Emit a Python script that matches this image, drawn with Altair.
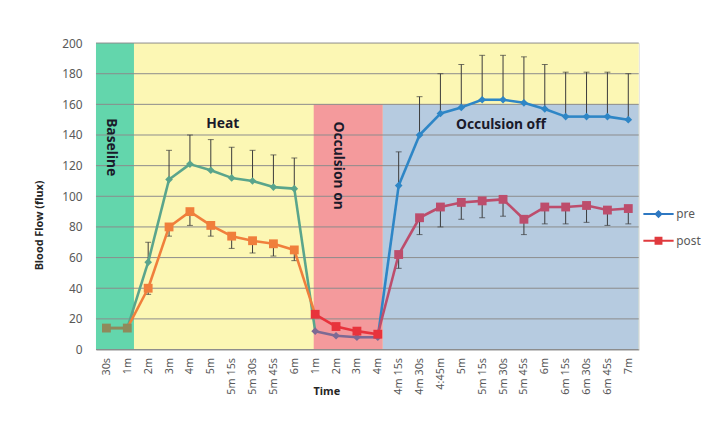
import altair as alt
import pandas as pd

# ---------------- data ----------------
x_labels = ["30s", "1m", "2m", "3m", "4m", "5m", "5m 15s", "5m 30s", "5m 45s", "6m",
            "1m", "2m", "3m", "4m", "4m 15s", "4m 30s", "4:45m", "5m", "5m 15s",
            "5m 30s", "5m 45s", "6m", "6m 15s", "6m 30s", "6m 45s", "7m"]
pre = [14, 14, 57, 111, 121, 117, 112, 110, 106, 105, 12, 9, 8, 8,
       107, 140, 154, 158, 163, 163, 161, 157, 152, 152, 152, 150]
post = [14, 14, 40, 80, 90, 81, 74, 71, 69, 65, 23, 15, 12, 10,
        62, 86, 93, 96, 97, 98, 85, 93, 93, 94, 91, 92]
pre_err_top = [14, 14, 70, 130, 140, 137, 132, 130, 127, 125, 12, 9, 8, 8,
               129, 165, 180, 186, 192, 192, 191, 186, 181, 181, 181, 180]
post_err_bottom = [14, 14, 36, 74, 81, 74, 66, 63, 61, 58, 23, 15, 12, 10,
                   53, 75, 80, 85, 86, 87, 75, 82, 82, 83, 81, 82]

point_phase = ["base"] * 2 + ["heat"] * 8 + ["on"] * 4 + ["off"] * 12
segment_phase = ["base"] + ["heat"] * 9 + ["on"] * 3 + ["off"] * 12

pre_colors = {"base": "#8f8a5c", "heat": "#5aa58c", "on": "#7d6a94", "off": "#2e86c6"}
post_colors = {"base": "#8f8a5c", "heat": "#f07f3c", "on": "#e8333c", "off": "#bd4d6c"}

phase_names = ["Baseline", "Heat", "Occulsion on", "Occulsion off"]
phase_x = [0.2, 5.57, 11.1, 18.9]
phase_y = [132, 147, 120, 146.5]
phase_angle = [90, 0, 90, 0]

band_x0 = [-0.5, 1.32, 9.93, 13.24]
band_x1 = [1.32, 25.5, 13.24, 25.5]
band_y0 = [0, 0, 0, 0]
band_y1 = [200, 200, 160, 160]
band_colors = ["#63d6ac", "#fcf7b4", "#f49a9c", "#b6cbe0"]

y_ticks = [0, 20, 40, 60, 80, 100, 120, 140, 160, 180, 200]

# ---------------- tables ----------------
bands = pd.DataFrame({"x0": band_x0, "x1": band_x1, "y0": band_y0, "y1": band_y1, "c": band_colors})
grid = pd.DataFrame({"y": y_ticks})
labels_df = pd.DataFrame({"name": phase_names, "x": phase_x, "y": phase_y, "a": phase_angle})

pts = []
for i in range(len(x_labels)):
    pts.append({"i": i, "series": "pre", "v": pre[i], "e": pre_err_top[i],
                "c": pre_colors[point_phase[i]]})
    pts.append({"i": i, "series": "post", "v": post[i], "e": post_err_bottom[i],
                "c": post_colors[point_phase[i]]})
pts = pd.DataFrame(pts)

segs = []
for i in range(len(x_labels) - 1):
    for s, vals, cols in (("pre", pre, pre_colors), ("post", post, post_colors)):
        col = cols[segment_phase[i]]
        for j in (i, i + 1):
            segs.append({"seg": f"{s}{i}", "i": j, "v": vals[j], "c": col})
segs = pd.DataFrame(segs)

label_expr = "[" + ",".join("'" + l + "'" for l in x_labels) + "][datum.value]"

FONT = "Noto Sans"
xscale = alt.Scale(domain=[-0.5, 25.5], nice=False, zero=False)
yscale = alt.Scale(domain=[0, 200], nice=False, zero=False)

x_axis = alt.Axis(values=list(range(len(x_labels))), labelExpr=label_expr, labelAngle=-90,
                  labelFontSize=11, labelColor="#595959", labelFont=FONT, grid=False,
                  labelOverlap=False, labelFlush=False, labelBound=False,
                  domain=True, domainColor="#a6a6a6", ticks=False, labelPadding=8,
                  title="Time", titleFont=FONT, titleFontSize=11, titleFontWeight="bold",
                  titleColor="#262626", titleX=233, titleY=36, titleAlign="center")
y_axis = alt.Axis(values=y_ticks, labelFontSize=12, labelColor="#595959", labelFont=FONT,
                  labelOverlap=False, labelFlush=False, labelBound=False,
                  grid=False, domain=False, ticks=False, labelPadding=14,
                  title="Blood Flow (flux)", titleFont=FONT, titleFontSize=11,
                  titleFontWeight="bold", titleColor="#262626", titleX=-57, titleY=184,
                  titleAlign="center", titleBaseline="middle", titleAngle=-90)


def X(field):
    return alt.X(field, type="quantitative", scale=xscale, axis=x_axis)


def Y(field):
    return alt.Y(field, type="quantitative", scale=yscale, axis=y_axis)


rects = alt.Chart(bands).mark_rect().encode(
    x=X("x0"), x2="x1", y=Y("y0"), y2="y1",
    color=alt.Color("c:N", scale=None),
)

grid_rules = alt.Chart(grid).mark_rule(color="#8c8c8c", strokeWidth=1).encode(
    y=Y("y"), x=alt.value(0), x2=alt.value(549),
)

phase_text = alt.Chart(labels_df).mark_text(font=FONT, fontSize=14, fontWeight="bold",
                                             color="#1a1a2a", align="center",
                                             baseline="middle").encode(
    x=X("x"), y=Y("y"), text="name:N", angle=alt.Angle("a:Q", scale=None),
)

err_rules = alt.Chart(pts).transform_filter("datum.i > 1").mark_rule(
    color="#3a3a3a", strokeWidth=1).encode(x=X("i"), y=Y("v"), y2="e:Q")
err_caps = alt.Chart(pts).transform_filter("datum.i > 1").mark_tick(
    color="#3a3a3a", orient="horizontal", size=6, thickness=1).encode(x=X("i"), y=Y("e"))

lines = alt.Chart(segs).mark_line(strokeWidth=2.6).encode(
    x=X("i"), y=Y("v"), detail="seg:N", color=alt.Color("c:N", scale=None),
)

pre_pts = alt.Chart(pts).transform_filter("datum.series == 'pre'").mark_point(
    shape="diamond", filled=True, size=60, opacity=1).encode(
    x=X("i"), y=Y("v"), color=alt.Color("c:N", scale=None))
post_pts = alt.Chart(pts).transform_filter("datum.series == 'post'").mark_point(
    shape="square", filled=True, size=80, opacity=1).encode(
    x=X("i"), y=Y("v"), color=alt.Color("c:N", scale=None))

pre_sym = "M-1.8,-0.12H1.8V0.12H-1.8Z M0,-0.5L0.5,0L0,0.5L-0.5,0Z"
post_sym = "M-1.8,-0.12H1.8V0.12H-1.8Z M-0.47,-0.47H0.47V0.47H-0.47Z"

legend_layer = alt.Chart(pts).transform_filter("false").mark_point(filled=True, opacity=1).encode(
    x=X("i"), y=Y("v"),
    color=alt.Color("series:N", scale=alt.Scale(domain=["pre", "post"], range=["#2e78c2", "#e03a3e"]),
                    legend=alt.Legend(title=None, orient="none", legendX=560.5, legendY=164.5,
                                      symbolSize=289, labelFontSize=12, labelColor="#595959",
                                      labelFont=FONT, labelOffset=9.5, rowPadding=12, padding=0,
                                      symbolStrokeWidth=0)),
    shape=alt.Shape("series:N", scale=alt.Scale(domain=["pre", "post"], range=[pre_sym, post_sym]),
                    legend=None),
)

chart = alt.layer(rects, grid_rules, phase_text, err_rules, err_caps, lines, pre_pts, post_pts,
                  legend_layer).properties(
    width=549, height=310,
    autosize=alt.AutoSizeParams(type="none"),
    padding={"left": 89, "top": 33, "right": 64, "bottom": 84},
).configure_view(stroke=None).configure(background="white")

chart.save("out.html", embed_options={"renderer": "svg", "actions": False})
